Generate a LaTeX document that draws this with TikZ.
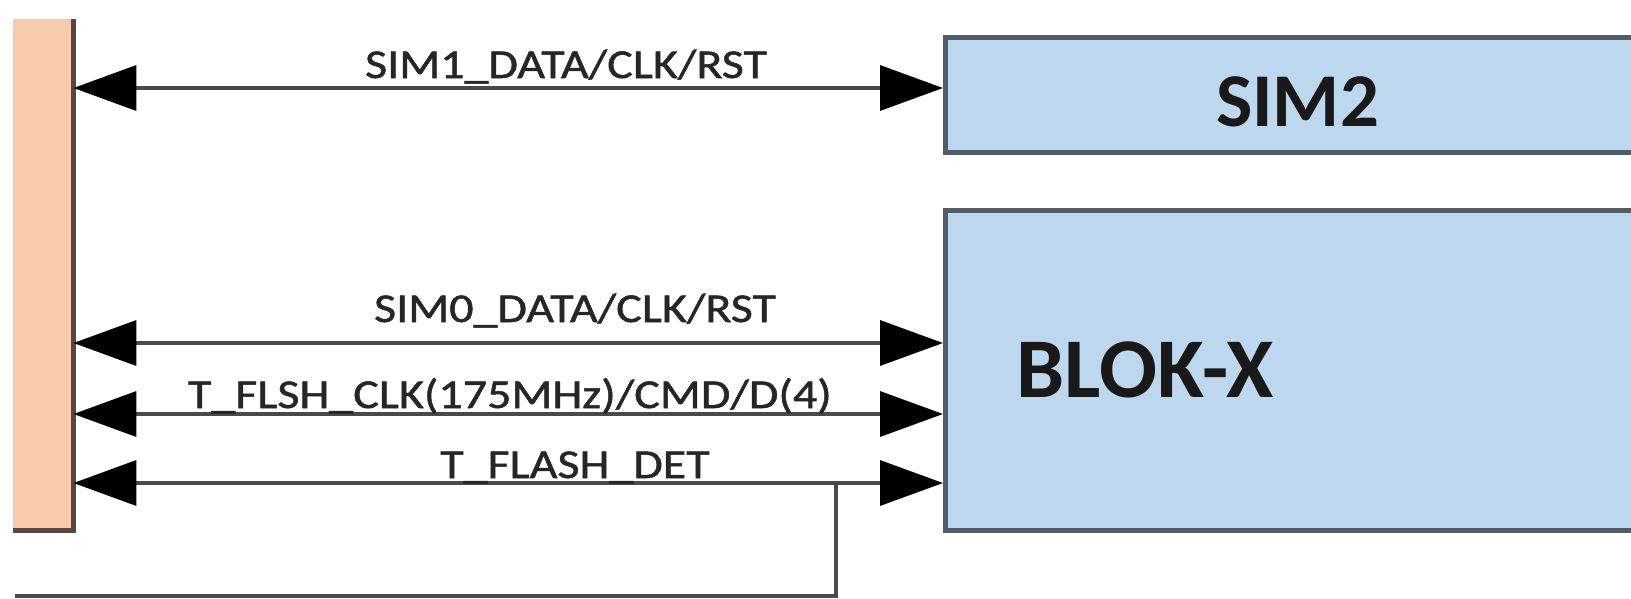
\documentclass[tikz,border=0pt]{standalone}
\usepackage{fontspec}
\setmainfont{Carlito}
\newfontfamily\lblfont[FakeStretch=1.17,FakeBold=1.2]{Carlito}
\newfontfamily\ttlfont[FakeStretch=1.01]{Carlito Bold}
\usetikzlibrary{arrows.meta,positioning}

\definecolor{boxblue}{HTML}{BDD7EE}
\definecolor{boxedge}{HTML}{525C66}
\definecolor{peach}{HTML}{F8CBAD}
\definecolor{bardark}{HTML}{5A4640}
\definecolor{wiregray}{HTML}{4A4A4A}

\tikzset{
  blk/.style={draw=boxedge, line width=5pt, fill=boxblue, rectangle, inner sep=0pt, anchor=north west,
    text=black!90},
  sig/.style={<->, >={Triangle[length=63pt,width=45pt,color=black]}, draw=wiregray, line width=3.5pt},
  wire/.style={draw=wiregray, line width=3.5pt},
  lbl/.style={font=\lblfont\fontsize{41}{46}\selectfont, text=black!85, anchor=base, inner sep=0pt},
}

\begin{document}
\begin{tikzpicture}[x=1pt,y=-1pt]
\useasboundingbox (0,0) rectangle (1631,598);

% connector strip on the left
\node[fill=peach, minimum width=60pt, minimum height=511pt, inner sep=0pt, anchor=north west] (bar) at (13,19) {};
\draw[bardark, line width=5pt] (bar.north east) -- (bar.south east) -- (bar.south west);

% blocks
\node[blk, minimum width=704pt, minimum height=115pt, text height=62pt, text depth=0pt,
  font=\ttlfont\fontsize{76}{80}\selectfont] (sim2) at (943,35) {SIM2};
\node[blk, minimum height=320pt, text width=575pt, inner xsep=71pt, align=left, text height=54pt, text depth=0pt,
  font=\ttlfont\fontsize{85}{90}\selectfont] (blokx) at (943,208) {BLOK-X};

% signals
\draw[sig] (bar.east |- 0,88) -- (sim2.west |- 0,88);
\node[lbl] (sim1lbl) at (566,78) {SIM1\_DATA/CLK/RST};

\draw[sig] (bar.east |- 0,343) -- (blokx.west |- 0,343);
\node[lbl] (sim0lbl) at (575,322) {SIM0\_DATA/CLK/RST};

\draw[sig] (bar.east |- 0,414) -- (blokx.west |- 0,414);
\node[lbl] (flshlbl) at (510,408) {T\_FLSH\_CLK(175MHz)/CMD/D(4)};

\draw[sig] (bar.east |- 0,483) -- (blokx.west |- 0,483);
\node[lbl] (detlbl) at (575,478) {T\_FLASH\_DET};

% detect line going out
\coordinate (tap) at (836,483);
\coordinate (out) at (15,596);
\draw[wire] (tap) |- (out);
\end{tikzpicture}
\end{document}
